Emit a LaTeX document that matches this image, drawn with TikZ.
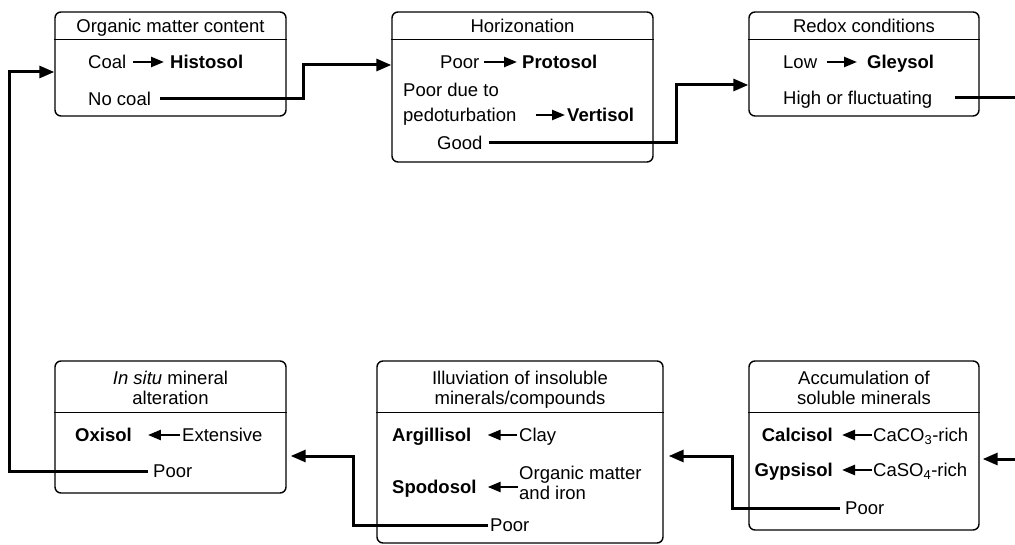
\documentclass[tikz,border=0pt]{standalone}
\usepackage{fontspec}
\setmainfont{Liberation Sans}
\usetikzlibrary{arrows.meta}
\begin{document}
\begin{tikzpicture}[x=1pt,y=-1pt,
  font=\fontsize{18.5}{20}\selectfont,
  box/.style={draw, line width=1.4pt, rounded corners=6pt, inner sep=0pt},
  sepline/.style={line width=1.4pt},
  txt/.style={inner sep=0pt, anchor=west, text height=13pt, text depth=0pt},
  ctxt/.style={inner sep=0pt, anchor=center, text height=13pt, text depth=0pt},
  conn/.style={line width=3pt, -{Triangle[length=15pt,width=12pt]}},
  link/.style={line width=3pt},
  inl/.style={line width=2.4pt, -{Triangle[length=13pt,width=10pt]}},
]
\useasboundingbox (0,0) rectangle (1015,545);

% boxes
\node[box, minimum width=231pt, minimum height=104pt] (b1) at (170.5,64) {};
\node[box, minimum width=261pt, minimum height=150pt] (b2) at (522.5,87) {};
\node[box, minimum width=230pt, minimum height=104pt] (b3) at (864,64) {};
\node[box, minimum width=231pt, minimum height=132pt] (b4) at (170.5,427) {};
\node[box, minimum width=286pt, minimum height=182pt] (b5) at (520,452) {};
\node[box, minimum width=230pt, minimum height=169pt] (b6) at (864,445.5) {};

\draw[sepline] ([yshift=-28pt]b1.north west) -- ([yshift=-28pt]b1.north east);
\draw[sepline] ([yshift=-28pt]b2.north west) -- ([yshift=-28pt]b2.north east);
\draw[sepline] ([yshift=-28pt]b3.north west) -- ([yshift=-28pt]b3.north east);
\draw[sepline] ([yshift=-52pt]b4.north west) -- ([yshift=-52pt]b4.north east);
\draw[sepline] ([yshift=-52pt]b5.north west) -- ([yshift=-52pt]b5.north east);
\draw[sepline] ([yshift=-52pt]b6.north west) -- ([yshift=-52pt]b6.north east);

% box 1
\node[ctxt] (t1) at (170.5,26) {Organic matter content};
\node[txt] (coal) at (88,62) {Coal};
\node[txt] (histosol) at (170,62) {\textbf{Histosol}};
\draw[inl] ([xshift=7pt]coal.east) -- ([xshift=-6pt]histosol.west);
\node[txt] (nocoal) at (88,99) {No coal};

% box 2
\node[ctxt] (t2) at (522.5,26) {Horizonation};
\node[txt] (poor2) at (440,62) {Poor};
\node[txt] (protosol) at (522,62) {\textbf{Protosol}};
\draw[inl] ([xshift=5pt]poor2.east) -- ([xshift=-5pt]protosol.west);
\node[txt] (pdt) at (403,90) {Poor due to};
\node[txt] (pedo) at (403,115) {pedoturbation};
\node[txt] (vertisol) at (567,115) {\textbf{Vertisol}};
\draw[inl] ([xshift=19pt]pedo.east) -- ([xshift=-2pt]vertisol.west);
\node[txt] (good) at (437,143) {Good};

% box 3
\node[ctxt] (t3) at (864,26) {Redox conditions};
\node[txt] (low) at (783,62) {Low};
\node[txt] (gleysol) at (867,62) {\textbf{Gleysol}};
\draw[inl] ([xshift=10pt]low.east) -- ([xshift=-10pt]gleysol.west);
\node[txt] (high) at (783,98) {High or fluctuating};

% box 6
\node[ctxt] (t6a) at (864,378) {Accumulation of};
\node[ctxt] (t6b) at (864,398) {soluble minerals};
\node[txt, anchor=east] (calcisol) at (833,435) {\textbf{Calcisol}};
\node[txt] (caco) at (873,435) {CaCO\textsubscript{3}-rich};
\draw[inl] ([xshift=-1pt]caco.west) -- ([xshift=9pt]calcisol.east);
\node[txt, anchor=east] (gypsisol) at (833,470) {\textbf{Gypsisol}};
\node[txt] (caso) at (873,470) {CaSO\textsubscript{4}-rich};
\draw[inl] ([xshift=-1pt]caso.west) -- ([xshift=9pt]gypsisol.east);
\node[txt] (poor6) at (845,508) {Poor};

% box 5
\node[ctxt] (t5a) at (520,378) {Illuviation of insoluble};
\node[ctxt] (t5b) at (520,398) {minerals/compounds};
\node[txt] (argil) at (392,435) {\textbf{Argillisol}};
\node[txt] (clay) at (519,435) {Clay};
\draw[inl] ([xshift=-2pt]clay.west) -- ([xshift=16pt]argil.east);
\node[txt] (spodosol) at (392,487) {\textbf{Spodosol}};
\node[txt] (om1) at (519,473) {Organic matter};
\node[txt] (om2) at (519,493) {and iron};
\draw[inl] ([xshift=41pt]spodosol.east) -- ([xshift=11pt]spodosol.east);
\node[txt] (poor5) at (490,525) {Poor};

% box 4
\node[ctxt] (t4a) at (170.5,378) {\textit{In situ} mineral};
\node[ctxt] (t4b) at (170.5,398) {alteration};
\node[txt] (oxisol) at (75,435) {\textbf{Oxisol}};
\node[txt] (extensive) at (182,435) {Extensive};
\draw[inl] ([xshift=-2pt]extensive.west) -- ([xshift=16pt]oxisol.east);
\node[txt] (poor4) at (153,471) {Poor};

% connectors
\coordinate (k1) at (303,65);
\draw[conn] ([xshift=9pt]nocoal.east) -| (k1) -- (k1 -| b2.west);
\coordinate (k2) at (676,85);
\draw[conn] ([xshift=6pt]good.east) -| (k2) -- (k2 -| b3.west);
\coordinate (e1) at (1016,98);
\draw[link] ([xshift=22pt]high.east) -- (e1);
\coordinate (e2) at (1016,459);
\draw[conn, shorten >=3pt] (e2) -- (e2 -| b6.east);
\coordinate (k3) at (732,456);
\draw[conn, shorten >=5pt] ([xshift=-5pt]poor6.west) -| (k3) -- (k3 -| b5.east);
\coordinate (k4) at (353,456);
\draw[conn, shorten >=4pt] ([xshift=-2pt]poor5.west) -| (k4) -- (k4 -| b4.east);
\coordinate (k5) at (9,72);
\draw[conn] ([xshift=-5pt]poor4.west) -| (k5) -- (k5 -| b1.west);
\end{tikzpicture}
\end{document}
